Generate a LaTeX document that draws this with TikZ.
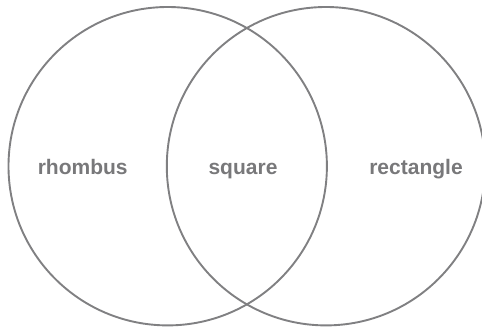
\documentclass[tikz,border=0pt]{standalone}
\usepackage{fontspec}
\setmainfont{Liberation Sans}
\definecolor{ringgray}{RGB}{128,128,130}
\definecolor{labelgray}{RGB}{120,120,122}
\tikzset{
  ring/.style={draw=ringgray,line width=1.9pt},
  setlabel/.style={anchor=base,inner sep=0.75pt,text=labelgray,font=\fontsize{21}{25}\selectfont\bfseries}
}
\begin{document}
\begin{tikzpicture}[x=1pt,y=1pt,yscale=-1,xscale=1]
                    \useasboundingbox (0,0) rectangle (482,327);
                    \clip (0,0) rectangle (482,327);
                    %Shape: Circle [left set]
                    \draw [ring] (167.7,166.2) circle (159.2);
                    %Shape: Circle [right set]
                    \draw [ring] (326,166.2) circle (159.2);

                    % Text Node
                    \node [setlabel] (rhombus) at (82.7,174) {rhombus};
                    % Text Node
                    \node [setlabel] (square) at (243,174) {square};
                    % Text Node
                    \node [setlabel] (rectangle) at (416,174) {rectangle};
\end{tikzpicture}
\end{document}
